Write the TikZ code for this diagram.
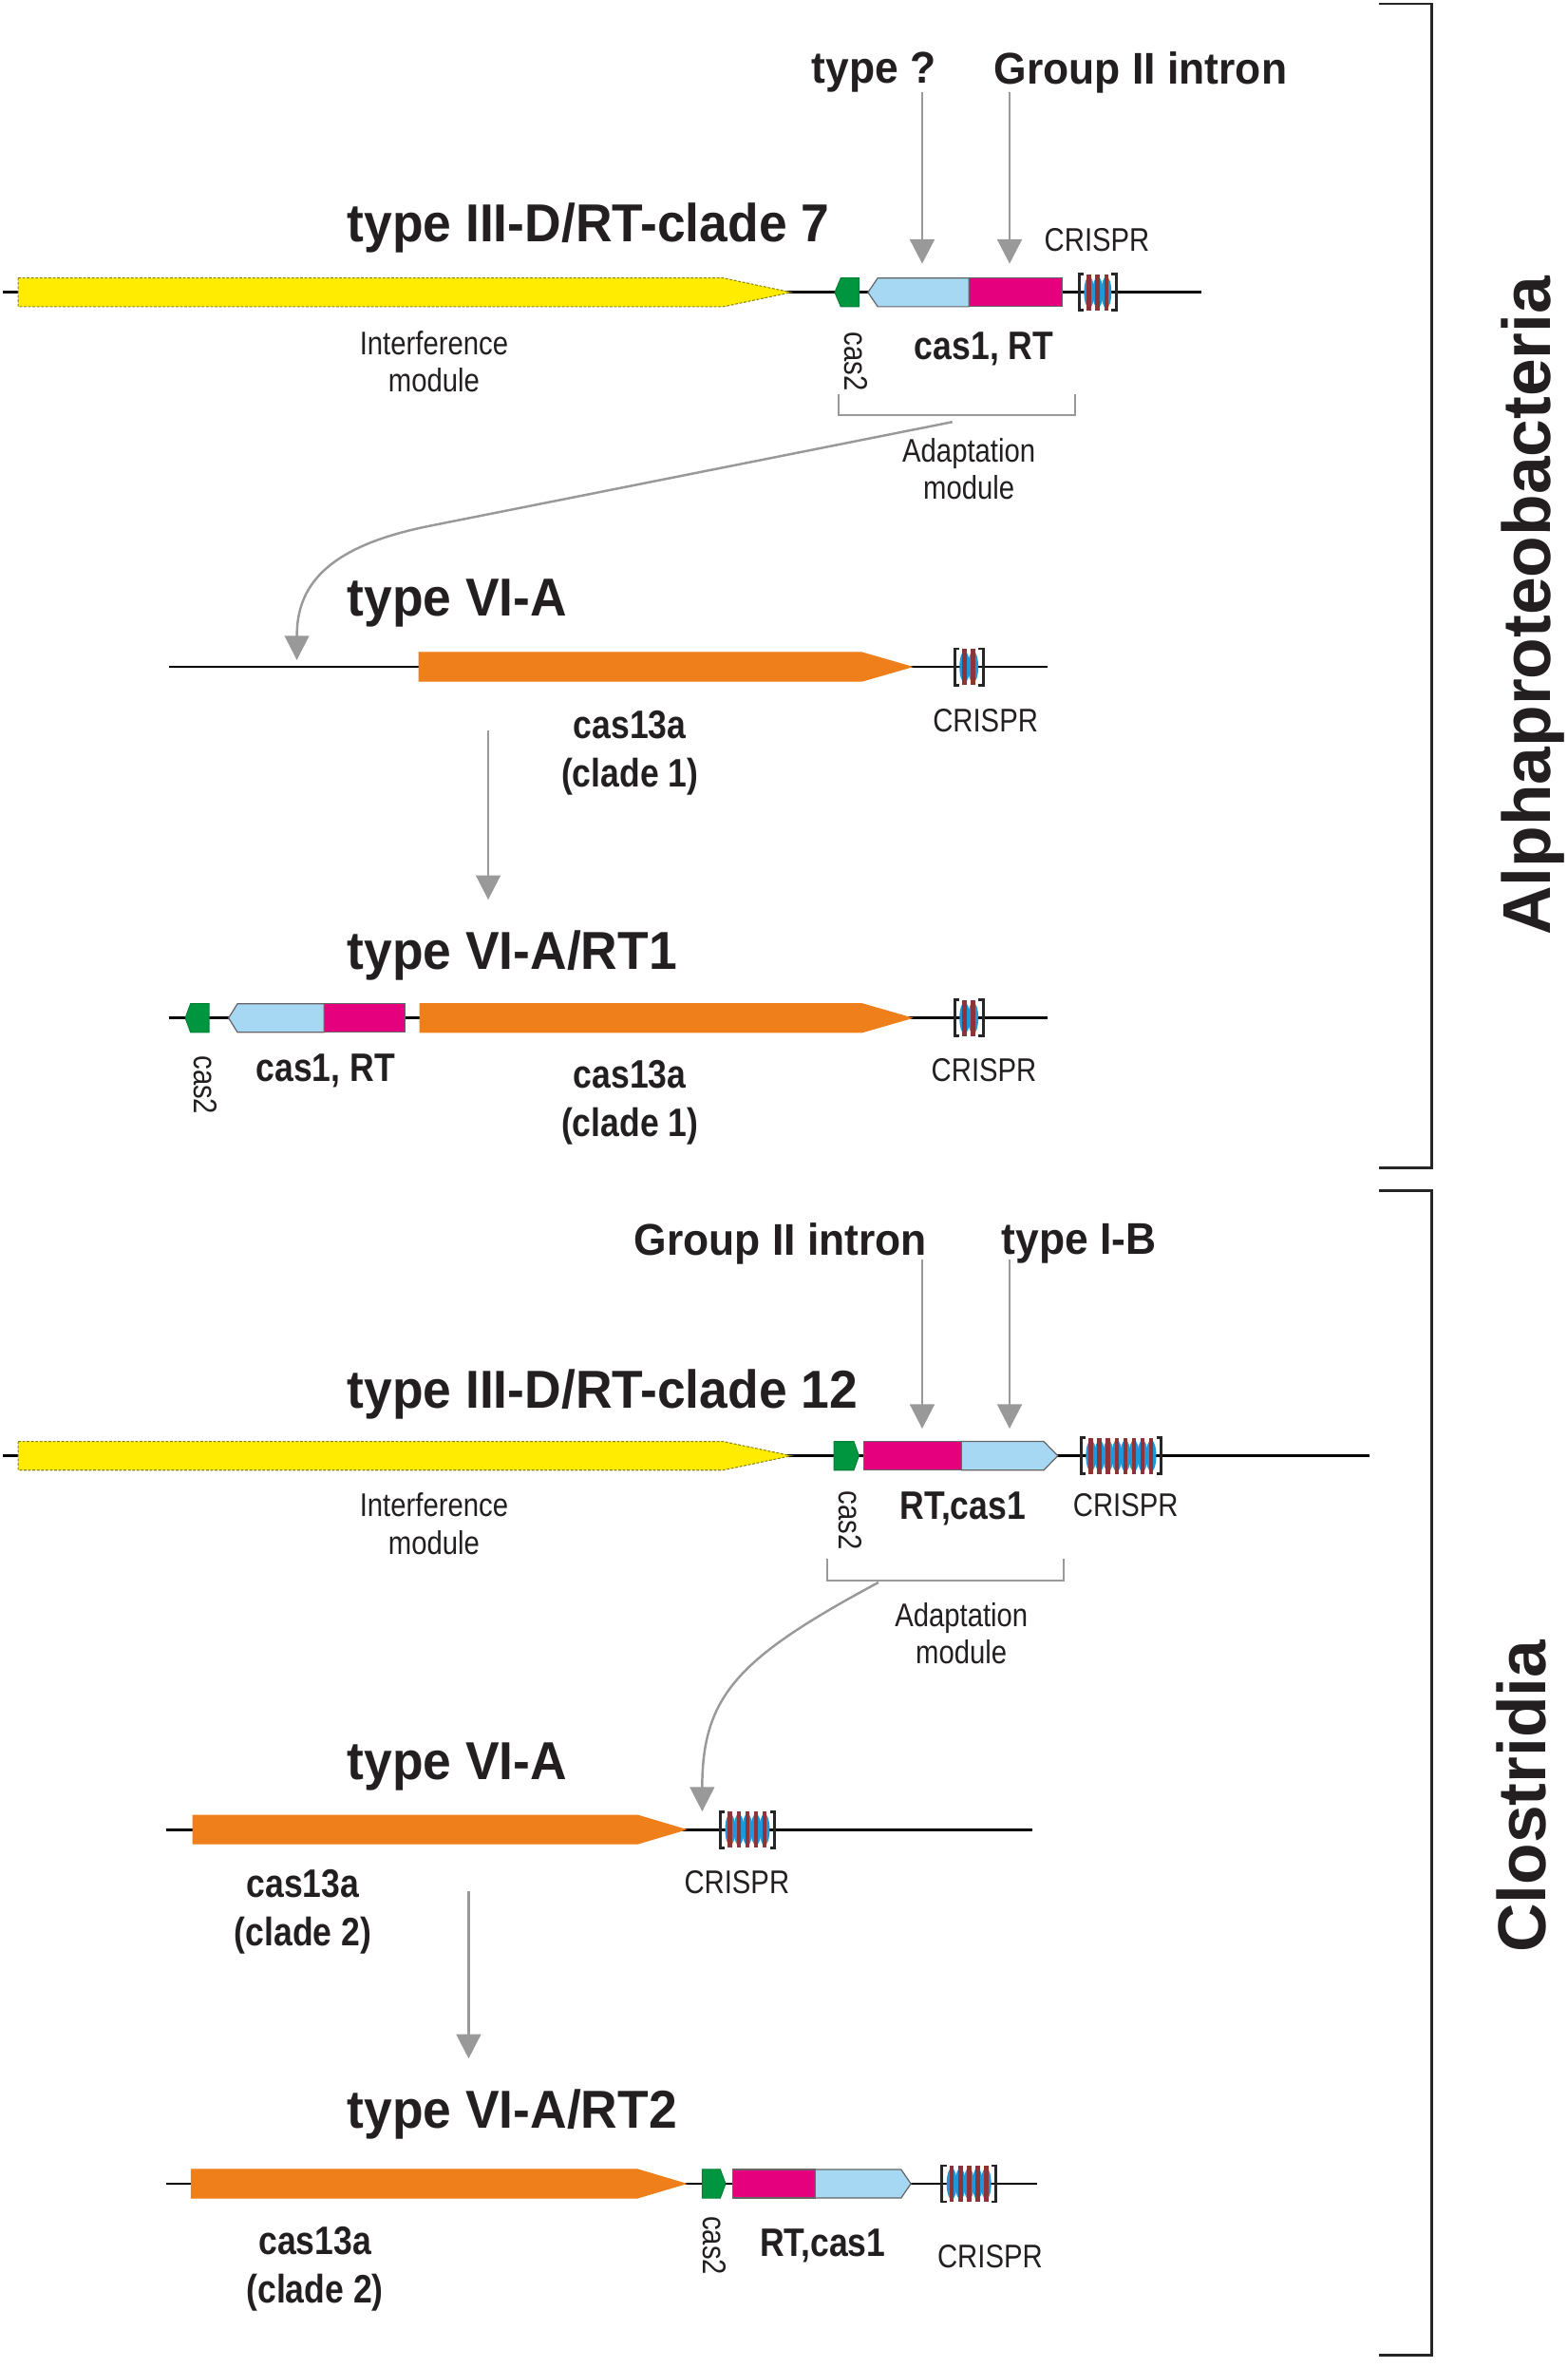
\documentclass[tikz,border=0pt]{standalone}
\usepackage{fontspec}
\setmainfont{Liberation Sans}
\newfontfamily\narrowfont{Liberation Sans}[FakeStretch=0.85]
\newfontfamily\titlefont{Liberation Sans}[FakeStretch=0.95]
\usetikzlibrary{arrows.meta}

\definecolor{genyellow}{RGB}{255,236,0}
\definecolor{gengreen}{RGB}{0,150,64}
\definecolor{genblue}{RGB}{166,216,244}
\definecolor{genmagenta}{RGB}{229,0,126}
\definecolor{genorange}{RGB}{239,127,26}
\definecolor{arrowgray}{RGB}{153,153,153}
\definecolor{textgray}{RGB}{35,31,32}
\definecolor{repeatbrown}{RGB}{140,52,58}
\definecolor{spacerblue}{RGB}{30,150,215}

\tikzset{
    dna/.style={draw=black, line width=0.8pt},
    geneedge/.style={draw=black!60, line width=0.35pt},
    yellowgene/.style={fill=genyellow, draw=black!45!genyellow, dash pattern=on 0.8pt off 0.5pt, line width=0.3pt},
    cas2gene/.style={fill=gengreen, draw=gengreen!85!black, line width=0.3pt},
    cas1gene/.style={geneedge, fill=genblue},
    rtgene/.style={geneedge, fill=genmagenta},
    cas13gene/.style={fill=genorange, draw=genorange, line width=0.3pt},
    pointer/.style={draw=arrowgray, line width=0.8pt, -{Triangle[width=7.3pt,length=7.3pt]}},
    curvepointer/.style={pointer, line width=0.7pt},
    modbracket/.style={draw=arrowgray, line width=0.6pt},
    taxbracket/.style={draw=black!85, line width=0.8pt},
    crbracket/.style={draw=black!85, line width=0.8pt},
    title/.style={anchor=west, inner sep=0pt, text=textgray, font=\titlefont\bfseries\fontsize{16}{18}\selectfont},
    toplabel/.style={text=textgray, font=\titlefont\bfseries\fontsize{13.3}{15}\selectfont},
    genelabel/.style={text=textgray, align=center, font=\narrowfont\bfseries\fontsize{11.9}{14.4}\selectfont},
    smalllabel/.style={text=textgray, align=center, font=\narrowfont\fontsize{9.8}{11.2}\selectfont},
    taxlabel/.style={rotate=90, anchor=base, text=textgray, font=\bfseries\fontsize{20.3}{24}\selectfont},
}

%% gene arrows: start, shoulder, tip, y, style
\newcommand{\generight}[5]{%
    \draw[#5] (#1,{#4-9.5}) -- (#2,{#4-9.5}) -- (#3,#4) -- (#2,{#4+9.5}) -- (#1,{#4+9.5}) -- cycle;}
%% tip, shoulder, end, y, style
\newcommand{\geneleft}[5]{%
    \draw[#5] (#1,#4) -- (#2,{#4-9.5}) -- (#3,{#4-9.5}) -- (#3,{#4+9.5}) -- (#2,{#4+9.5}) -- cycle;}
%% start, end, y, style
\newcommand{\genebox}[4]{%
    \draw[#4] (#1,{#3-9.5}) rectangle (#2,{#3+9.5});}
%% CRISPR array: centre x, y, number of repeats
\newcommand{\crispr}[3]{%
    \pgfmathsetmacro{\crhw}{#3*2.85}%
    \foreach \k in {1,...,#3}{%
        \pgfmathsetmacro{\crx}{#1-\crhw+(\k-0.5)*5.7}%
        \fill[spacerblue] (\crx,#2) ellipse [x radius=3.4, y radius=10.5];
    }%
    \foreach \k in {1,...,#3}{%
        \pgfmathsetmacro{\crx}{#1-\crhw+(\k-0.5)*5.7}%
        \fill[repeatbrown] ({\crx-1.5},{#2-12}) rectangle ({\crx+1.5},{#2+12});
    }%
    \draw[crbracket] ({#1-\crhw-0.6},{#2-12}) -- ++(-3.2,0) -- ++(0,24) -- ++(3.2,0);
    \draw[crbracket] ({#1+\crhw+0.6},{#2-12}) -- ++(3.2,0) -- ++(0,24) -- ++(-3.2,0);
}

\begin{document}
\begin{tikzpicture}[x=0.15865mm, y=-0.15865mm]
        \useasboundingbox (0,0) rectangle (1040,1571.3);
        %% Taxon brackets
        \draw[taxbracket] (915,2.5) -- (950,2.5) -- (950,775) -- (915,775);
        \draw[taxbracket] (915,790) -- (950,790) -- (950,1563) -- (915,1563);
        \node[taxlabel] (alpha) at (1029,402) {Alphaproteobacteria};
        \node[taxlabel] (clost) at (1026,1192) {Clostridia};

        %% type III-D/RT-clade 7
        \node[toplabel] (tq) at (580,48) {type ?};
        \node[toplabel] (gii7) at (757,48) {Group II intron};
        \coordinate (tqtop) at (612,61);
        \coordinate (tqtip) at (612,175);
        \coordinate (gii7top) at (670,61);
        \coordinate (gii7tip) at (670,175);
        \draw[pointer] (tqtop) -- (tqtip);
        \draw[pointer] (gii7top) -- (gii7tip);
        \node[title] (t7) at (230,151) {type III-D/RT-clade 7};
        \draw[dna] (2,194) -- (797,194);
        \generight{12}{480}{525}{194}{yellowgene}
        \geneleft{554}{558}{570}{194}{cas2gene}
        \geneleft{576}{582.5}{643}{194}{cas1gene}
        \genebox{643}{705}{194}{rtgene}
        \crispr{728.5}{194}{3}
        \node[smalllabel] (cr7) at (728,159) {CRISPR};
        \node[smalllabel] (int7) at (288,240) {Interference\\module};
        \node[smalllabel, rotate=-90] (cas2lab7) at (568,240) {cas2};
        \node[genelabel] (c1rt7) at (653,231.5) {cas1, RT};
        \draw[modbracket] (556.5,261.5) -- (556.5,275.5) -- (713.5,275.5) -- (713.5,261.5);
        \node[smalllabel] (ad7) at (643,311) {Adaptation\\module};
        \coordinate (ad7src) at (632,280);
        \coordinate (ins6a) at (197,438);
        \draw[curvepointer] (ad7src) -- (285,349) .. controls (215,363) and (197,390) .. (ins6a);

        %% type VI-A (clade 1)
        \node[title] (t6a) at (230,400) {type VI-A};
        \draw[dna] (112,442.5) -- (695,442.5);
        \generight{278}{572}{605}{442.5}{cas13gene}
        \crispr{643}{442.5}{2}
        \node[smalllabel] (cr6a) at (654,478) {CRISPR};
        \node[genelabel] (c13a) at (418,499.5) {cas13a\\(clade 1)};
        \coordinate (t6atop) at (324,485);
        \coordinate (t6atip) at (324,597);
        \draw[pointer] (t6atop) -- (t6atip);

        %% type VI-A/RT1
        \node[title] (trt1) at (230,634) {type VI-A/RT1};
        \draw[dna] (112,675.5) -- (695,675.5);
        \geneleft{123}{126.5}{138.7}{675.5}{cas2gene}
        \geneleft{151.7}{157.6}{215}{675.5}{cas1gene}
        \genebox{215}{269}{675.5}{rtgene}
        \generight{278.6}{572}{605}{675.5}{cas13gene}
        \crispr{643}{675.5}{2}
        \node[smalllabel, rotate=-90] (cas2rt1) at (136.6,720) {cas2};
        \node[genelabel] (c1rt1) at (216,710.5) {cas1, RT};
        \node[genelabel] (c13rt1) at (418,731.5) {cas13a\\(clade 1)};
        \node[smalllabel] (crrt1) at (653,710) {CRISPR};

        %% type III-D/RT-clade 12
        \node[toplabel] (gii12) at (518,825) {Group II intron};
        \node[toplabel] (tib) at (716,825) {type I-B};
        \coordinate (gii12top) at (612,836);
        \coordinate (gii12tip) at (612,948);
        \coordinate (tibtop) at (670,836);
        \coordinate (tibtip) at (670,948);
        \draw[pointer] (gii12top) -- (gii12tip);
        \draw[pointer] (tibtop) -- (tibtip);
        \node[title] (t12) at (230,925) {type III-D/RT-clade 12};
        \draw[dna] (2,966) -- (909,966);
        \generight{12}{480}{525}{966}{yellowgene}
        \generight{553.5}{566.6}{570}{966}{cas2gene}
        \genebox{573}{638}{966}{rtgene}
        \generight{638}{692.7}{702}{966}{cas1gene}
        \crispr{744}{966}{8}
        \node[smalllabel] (cr12) at (747,999) {CRISPR};
        \node[smalllabel] (int12) at (288,1011) {Interference\\module};
        \node[smalllabel, rotate=-90] (cas2lab12) at (564.5,1009) {cas2};
        \node[genelabel] (rtc112) at (639,1001) {RT,cas1};
        \draw[modbracket] (548.8,1034) -- (548.8,1049) -- (706,1049) -- (706,1034);
        \node[smalllabel] (ad12) at (638,1084) {Adaptation\\module};
        \coordinate (ad12src) at (583,1050);
        \coordinate (ins6b) at (466,1202);
        \draw[curvepointer] (ad12src) .. controls (490,1100) and (466,1125) .. (ins6b);

        %% type VI-A (clade 2)
        \node[title] (t6b) at (230,1172) {type VI-A};
        \draw[dna] (110,1214) -- (685,1214);
        \generight{128}{423}{455}{1214}{cas13gene}
        \crispr{496}{1214}{5}
        \node[smalllabel] (cr6b) at (489,1249) {CRISPR};
        \node[genelabel] (c13b) at (201,1268.5) {cas13a\\(clade 2)};
        \coordinate (t6btop) at (311,1255);
        \coordinate (t6btip) at (311,1366);
        \draw[pointer] (t6btop) -- (t6btip);

        %% type VI-A/RT2
        \node[title] (trt2) at (230,1403) {type VI-A/RT2};
        \draw[dna] (110,1449) -- (688,1449);
        \generight{127}{423}{455}{1449}{cas13gene}
        \generight{466}{478}{481.5}{1449}{cas2gene}
        \genebox{486.4}{541}{1449}{rtgene}
        \generight{541}{598}{604.5}{1449}{cas1gene}
        \crispr{643}{1449}{5}
        \node[smalllabel, rotate=-90] (cas2rt2) at (474,1490) {cas2};
        \node[genelabel] (rtc1rt2) at (546,1490.5) {RT,cas1};
        \node[smalllabel] (crrt2) at (657,1497) {CRISPR};
        \node[genelabel] (c13rt2) at (209,1505.5) {cas13a\\(clade 2)};
\end{tikzpicture}
\end{document}
